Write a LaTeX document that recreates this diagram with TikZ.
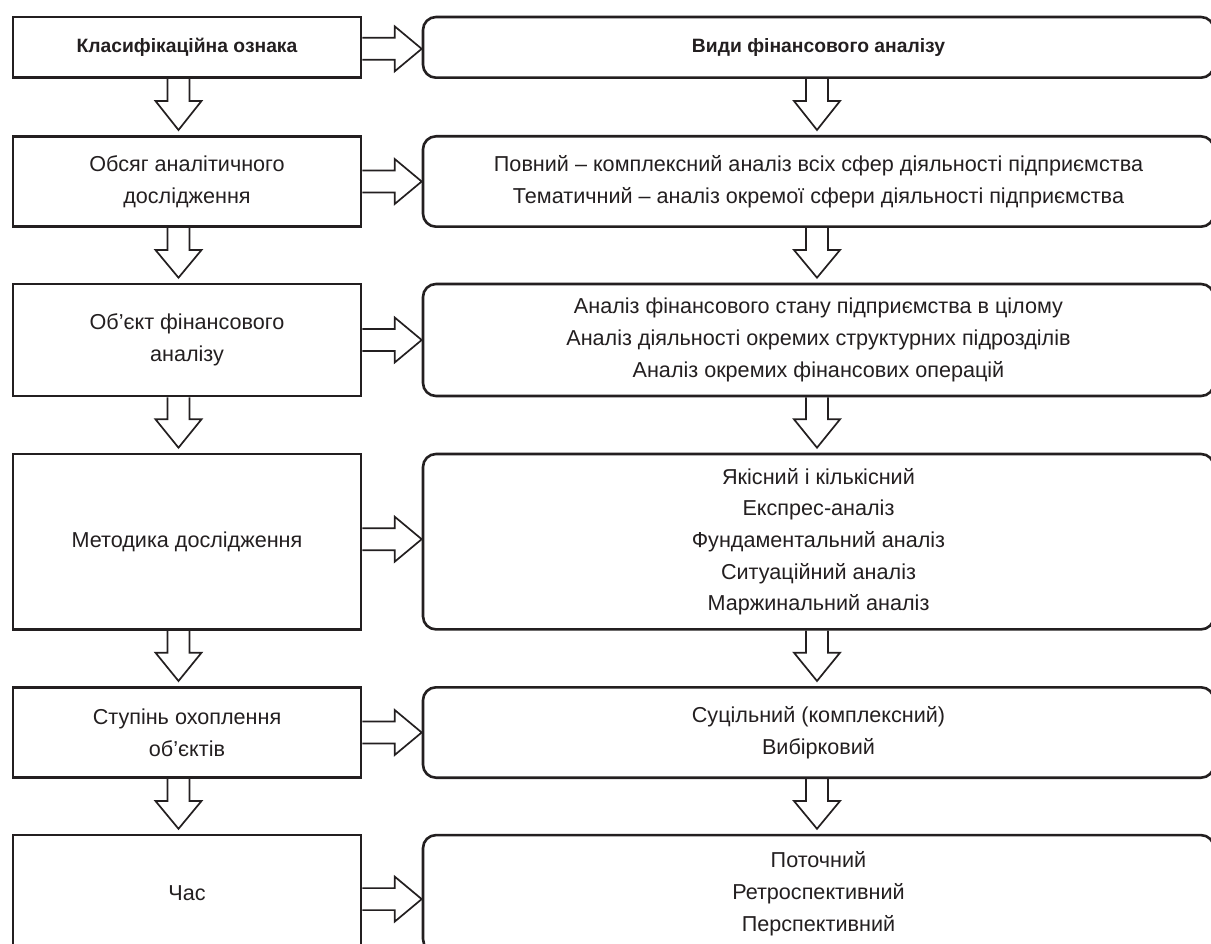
\documentclass[tikz,border=0pt]{standalone}
\usepackage{fontspec}
\setmainfont{Liberation Sans}
\usetikzlibrary{calc}
\definecolor{ink}{RGB}{35,31,32}
\newcommand{\regfont}{\fontsize{21.6}{31.7}\selectfont}
\newcommand{\headfont}{\fontsize{19.3}{24}\selectfont\bfseries}

% block arrow pointing down from node #1 to node #2, shaft at x-offset #3
\newcommand{\downblock}[3]{%
  \draw[blk] let \p1=($(#1.south)+(#3,0)$), \p2=(#2.north) in
    (\x1-11pt,\y1) -- (\x1-11pt,\y1-22pt) -- (\x1-23pt,\y1-22pt)
    -- (\x1,\y2+5pt) -- (\x1+23pt,\y1-22pt) -- (\x1+11pt,\y1-22pt)
    -- (\x1+11pt,\y1);}
% block arrow pointing right from node #1 to node #2, shifted down by #3
\newcommand{\rightblock}[3]{%
  \draw[blk] let \p1=($(#1.east)+(0,#3)$), \p2=(#2.west) in
    (\x1,\y1+11pt) -- (\x2-27pt,\y1+11pt) -- (\x2-27pt,\y1+22.5pt)
    -- (\x2,\y1) -- (\x2-27pt,\y1-22.5pt) -- (\x2-27pt,\y1-11pt)
    -- (\x1,\y1-11pt);}

\begin{document}
\begin{tikzpicture}[x=1pt,y=-1pt,
  lbox/.style={draw=ink, line width=2.6pt, minimum width=348pt, inner sep=0pt,
    align=center, text=ink, font=\regfont},
  rbox/.style={lbox, rounded corners=13pt, minimum width=791pt},
  blk/.style={draw=ink, line width=1.7pt, line join=miter}]

\fill[white] (0,0) rectangle (1211,944);
\useasboundingbox (0,0) rectangle (1211,944);

% left column: classification criteria
\node[lbox, minimum height=60.7pt, font=\headfont] (L1) at (187,47.35) {Класифікаційна ознака};
\node[lbox, minimum height=90.4pt] (L2) at (187,181.5) {Обсяг аналітичного\\дослідження};
\node[lbox, minimum height=112pt] (L3) at (187,340) {Об’єкт фінансового\\аналізу};
\node[lbox, minimum height=175.4pt] (L4) at (187,541.7) {Методика дослідження};
\node[lbox, minimum height=90.4pt] (L5) at (187,732.5) {Ступінь охоплення\\об’єктів};
\node[lbox, minimum height=117pt] (L6) at (187,893.6) {Час};

% right column: kinds of financial analysis
\node[rbox, minimum height=60.7pt, font=\headfont] (R1) at (818.5,47.35) {Види фінансового аналізу};
\node[rbox, minimum height=90.4pt] (R2) at (818.5,181.5) {Повний – комплексний аналіз всіх сфер діяльності підприємства\\Тематичний – аналіз окремої сфери діяльності підприємства};
\node[rbox, minimum height=112pt] (R3) at (818.5,340) {Аналіз фінансового стану підприємства в цілому\\Аналіз діяльності окремих структурних підрозділів\\Аналіз окремих фінансових операцій};
\node[rbox, minimum height=175.4pt] (R4) at (818.5,541.7) {Якісний і кількісний\\Експрес-аналіз\\Фундаментальний аналіз\\Ситуаційний аналіз\\Маржинальний аналіз};
\node[rbox, minimum height=90.4pt] (R5) at (818.5,732.5) {Суцільний (комплексний)\\Вибірковий};
\node[rbox, minimum height=117pt] (R6) at (818.5,893.6) {Поточний\\Ретроспективний\\Перспективний};

% downward arrows
\downblock{L1}{L2}{-8.5}
\downblock{L2}{L3}{-8.5}
\downblock{L3}{L4}{-8.5}
\downblock{L4}{L5}{-8.5}
\downblock{L5}{L6}{-8.5}
\downblock{R1}{R2}{-1.5}
\downblock{R2}{R3}{-1.5}
\downblock{R3}{R4}{-1.5}
\downblock{R4}{R5}{-1.5}
\downblock{R5}{R6}{-1.5}

% arrows from criteria to kinds
\rightblock{L1}{R1}{1.5}
\rightblock{L2}{R2}{0}
\rightblock{L3}{R3}{0}
\rightblock{L4}{R4}{-2.5}
\rightblock{L5}{R5}{0}
\rightblock{L6}{R6}{5.5}
\end{tikzpicture}
\end{document}
